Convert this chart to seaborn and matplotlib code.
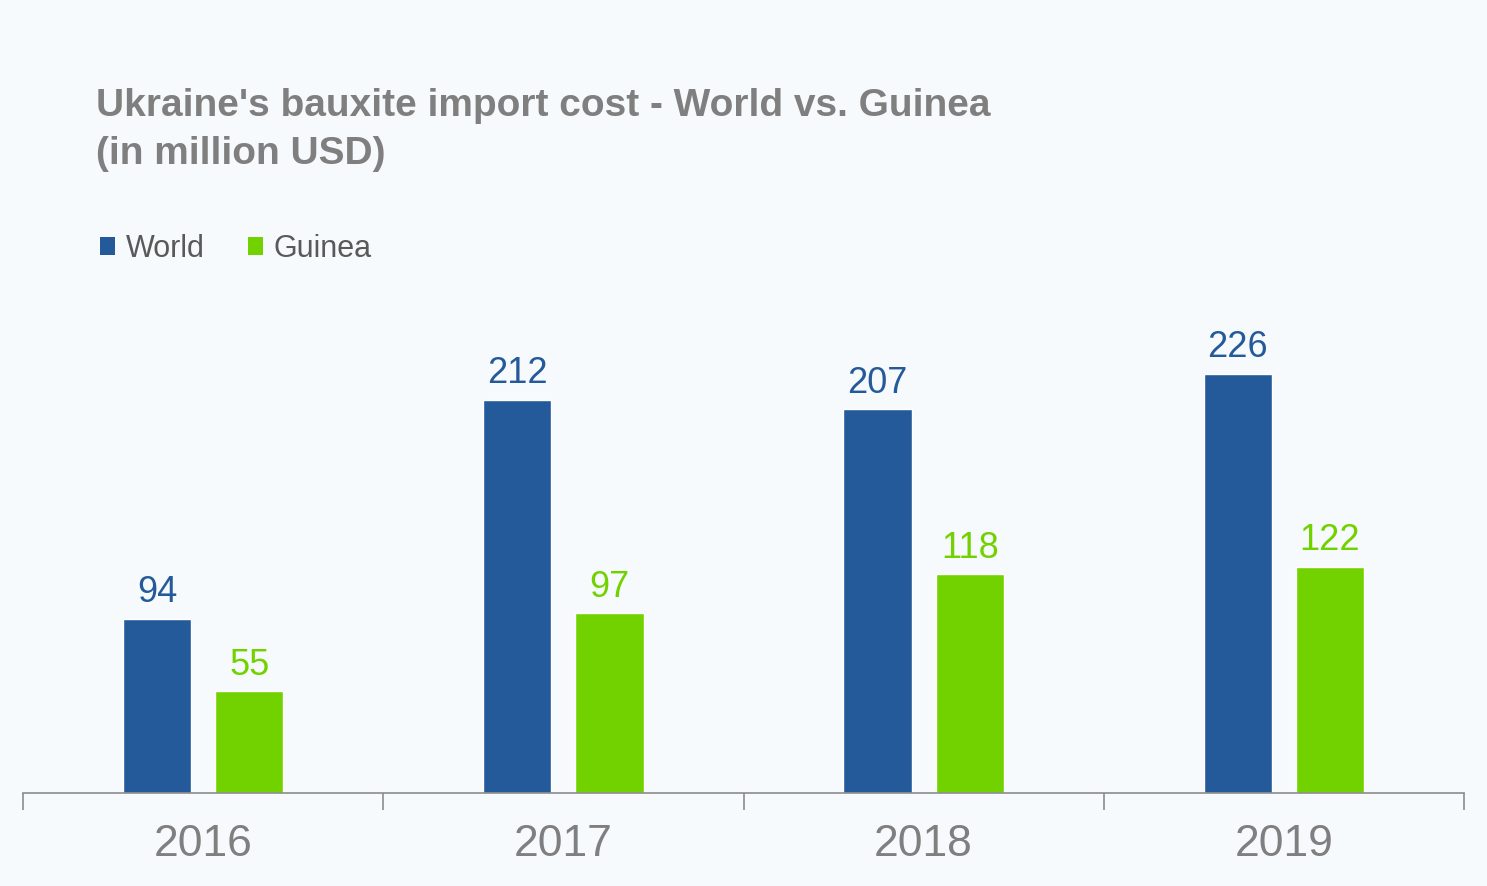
import matplotlib
matplotlib.use("Agg")
import matplotlib.pyplot as plt
import seaborn as sns
import pandas as pd
from matplotlib.patches import Patch

years = ["2016", "2017", "2018", "2019"]
world = [94, 212, 207, 226]
guinea = [55, 97, 118, 122]
series = ["World", "Guinea"]
colors = ["#245A9A", "#72D200"]
title = "Ukraine's bauxite import cost - World vs. Guinea\n(in million USD)"

df = pd.DataFrame({
    "year": years * 2,
    "value": world + guinea,
    "series": [series[0]] * len(years) + [series[1]] * len(years),
})

sns.set_theme(style="white")
plt.rcParams["font.family"] = ["Liberation Sans", "DejaVu Sans"]
bg = "#F7FAFC"

fig = plt.figure(figsize=(14.87, 8.86), dpi=100, facecolor=bg)
ax = fig.add_axes([23/1487, 1 - 793/886, (1464-23)/1487, (793-300)/886])
ax.set_facecolor(bg)

sns.barplot(data=df, x="year", y="value", hue="series", palette=colors,
            width=0.512, gap=0.26, ax=ax, legend=False, saturation=1)

ax.set_xlim(-0.5, 3.5)
ax.set_ylim(0, 265.8)
for s in ["top", "right", "left"]:
    ax.spines[s].set_visible(False)
ax.spines["bottom"].set_color("#8C8C8C")
ax.spines["bottom"].set_linewidth(1.2)
ax.set_yticks([])
ax.set_xlabel("")
ax.set_ylabel("")
ax.set_xticks(range(len(years)))
ax.set_xticklabels(years, fontsize=32, color="#7F7F7F")
ax.tick_params(axis="x", which="major", length=0, pad=22)
ax.set_xticks([-0.5, 0.5, 1.5, 2.5, 3.5], minor=True)
ax.tick_params(axis="x", which="minor", bottom=True, length=12, width=1.2,
               color="#8C8C8C", direction="out")

for cont, c in zip(ax.containers, colors):
    ax.bar_label(cont, labels=[f"{v:.0f}" for v in cont.datavalues],
                 padding=6, fontsize=26, color=c)

fig.text(96/1487, 1 - 88/886, title, fontsize=28, fontweight="bold",
         color="#7F7F7F", va="top", ha="left", linespacing=1.42)

handles = [Patch(facecolor=c, edgecolor="none") for c in colors]
fig.legend(handles, series, loc="center left",
           bbox_to_anchor=(100/1487, 1 - 249/886), frameon=False, ncol=2,
           fontsize=22, labelcolor="#595959", handlelength=0.5, handleheight=0.5,
           handletextpad=0.35, columnspacing=1.4, borderpad=0, borderaxespad=0)

fig.savefig("out.png", dpi=100, facecolor=bg)
